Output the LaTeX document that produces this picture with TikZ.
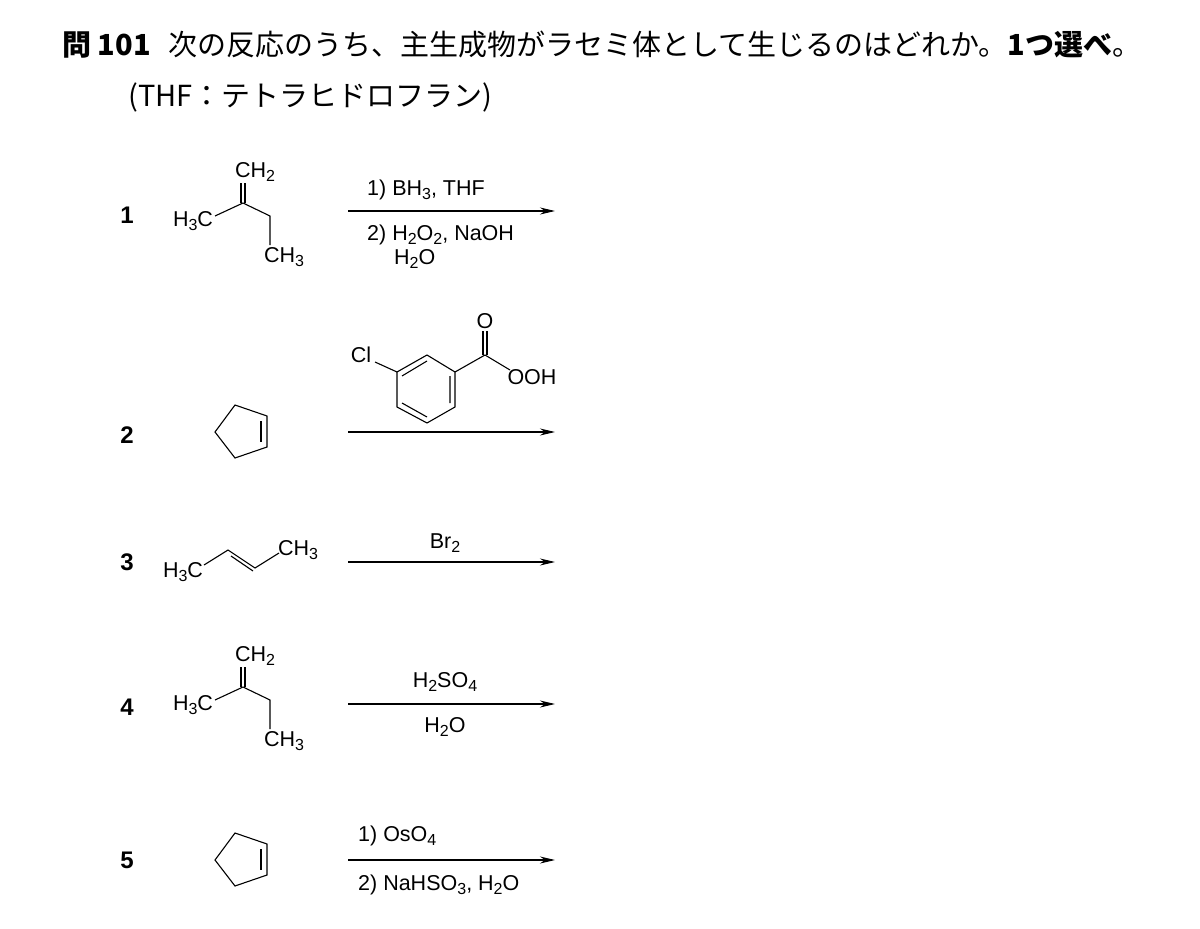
\documentclass[tikz,border=0pt]{standalone}
\usepackage{fontspec}
\setmainfont{Liberation Sans}
\newfontfamily\jp{Noto Sans CJK JP}
\usetikzlibrary{arrows.meta}
\newcommand\chs[1]{\raisebox{-0.35ex}{\fontsize{16}{16}\selectfont #1}}
\tikzset{
 lab/.style={font=\fontsize{21.5}{22}\selectfont, inner sep=0pt},
 num/.style={font=\fontsize{24}{24}\selectfont\bfseries, inner sep=0pt},
 bond/.style={line width=1.1pt},
 rxn/.style={line width=1.1pt, -{Stealth[length=15pt,width=7pt]}},
 ttl/.style={font=\jp\fontsize{29}{29}\selectfont, inner sep=0pt, anchor=west}
}
\begin{document}
\begin{tikzpicture}[x=1pt,y=-1pt]
\useasboundingbox (0,0) rectangle (1200,929);
\fill[white] (0,0) rectangle (1200,929);
\node[ttl] (t1) at (62,45) {\textbf{問 101}\hspace{0.6em}次の反応のうち、主生成物がラセミ体として生じるのはどれか。\textbf{1つ選べ}。};
\node[ttl] (t2) at (128,97) {(THF：テトラヒドロフラン)};
% numbers
\node[num] (n1) at (127,215) {1};
\node[num] (n2) at (127,435) {2};
\node[num] (n3) at (127,562) {3};
\node[num] (n4) at (127,707) {4};
\node[num] (n5) at (127,860) {5};
% molecule 1 and 4
\foreach \dy/\m in {0/a,484/b}{
 \begin{scope}[yshift=-\dy]
 \node[lab] (\m ch2) at (255,172) {CH\chs{2}};
 \node[lab] (\m h3c) at (193,221) {H\chs{3}C};
 \node[lab] (\m ch3) at (284,257) {CH\chs{3}};
 \draw[bond] (215,216) -- (243,203) -- (270,216) -- (270,245);
 \draw[bond] (241,203) -- (241,183) (245,203) -- (245,183);
 \end{scope}}
% arrows
\coordinate (a1s) at (348,211); \coordinate (a1e) at (555,211);
\draw[rxn] (a1s) -- (a1e);
\node[lab,anchor=west] (r1a) at (367,190) {1) BH\chs{3}, THF};
\node[lab,anchor=west] (r1b) at (367,235) {2) H\chs{2}O\chs{2}, NaOH};
\node[lab,anchor=west] (r1c) at (394,259) {H\chs{2}O};
% molecule 2 and 5
\foreach \dy in {0,428}{
 \begin{scope}[yshift=-\dy]
 \draw[bond] (235,405) -- (267,416) -- (267,447) -- (235,458) -- (215,432) -- cycle;
 \draw[bond] (261,421) -- (261,442);
 \end{scope}}
\coordinate (a2s) at (348,432); \coordinate (a2e) at (555,432);
\draw[rxn] (a2s) -- (a2e);
% mCPBA
\draw[bond] (427,355) -- (455,372) -- (455,407) -- (427,423) -- (397,407) -- (397,372) -- cycle;
\draw[bond] (402,376) -- (427,361) (450,376) -- (450,403) (427,417) -- (402,403);
\draw[bond] (375,362) -- (397,372);
\draw[bond] (455,372) -- (485,355) -- (510,370);
\draw[bond] (483,355) -- (483,331) (487,355) -- (487,331);
\node[lab] (cl) at (361,355) {Cl};
\node[lab] (o) at (485,321) {O};
\node[lab] (ooh) at (532,377) {OOH};
% molecule 3
\node[lab] (h3c3) at (183,572) {H\chs{3}C};
\node[lab] (ch33) at (298,550) {CH\chs{3}};
\draw[bond] (204,565) -- (228,550) -- (255,568) -- (279,553);
\draw[bond] (231,556) -- (253,571);
\coordinate (a3s) at (348,562); \coordinate (a3e) at (555,562);
\draw[rxn] (a3s) -- (a3e);
\node[lab] (r3) at (445,543) {Br\chs{2}};
% 4
\coordinate (a4s) at (348,704); \coordinate (a4e) at (555,704);
\draw[rxn] (a4s) -- (a4e);
\node[lab] (r4a) at (445,682) {H\chs{2}SO\chs{4}};
\node[lab] (r4b) at (445,727) {H\chs{2}O};
% 5
\coordinate (a5s) at (348,860); \coordinate (a5e) at (555,860);
\draw[rxn] (a5s) -- (a5e);
\node[lab,anchor=west] (r5a) at (358,836) {1) OsO\chs{4}};
\node[lab,anchor=west] (r5b) at (358,885) {2) NaHSO\chs{3}, H\chs{2}O};
\end{tikzpicture}
\end{document}
